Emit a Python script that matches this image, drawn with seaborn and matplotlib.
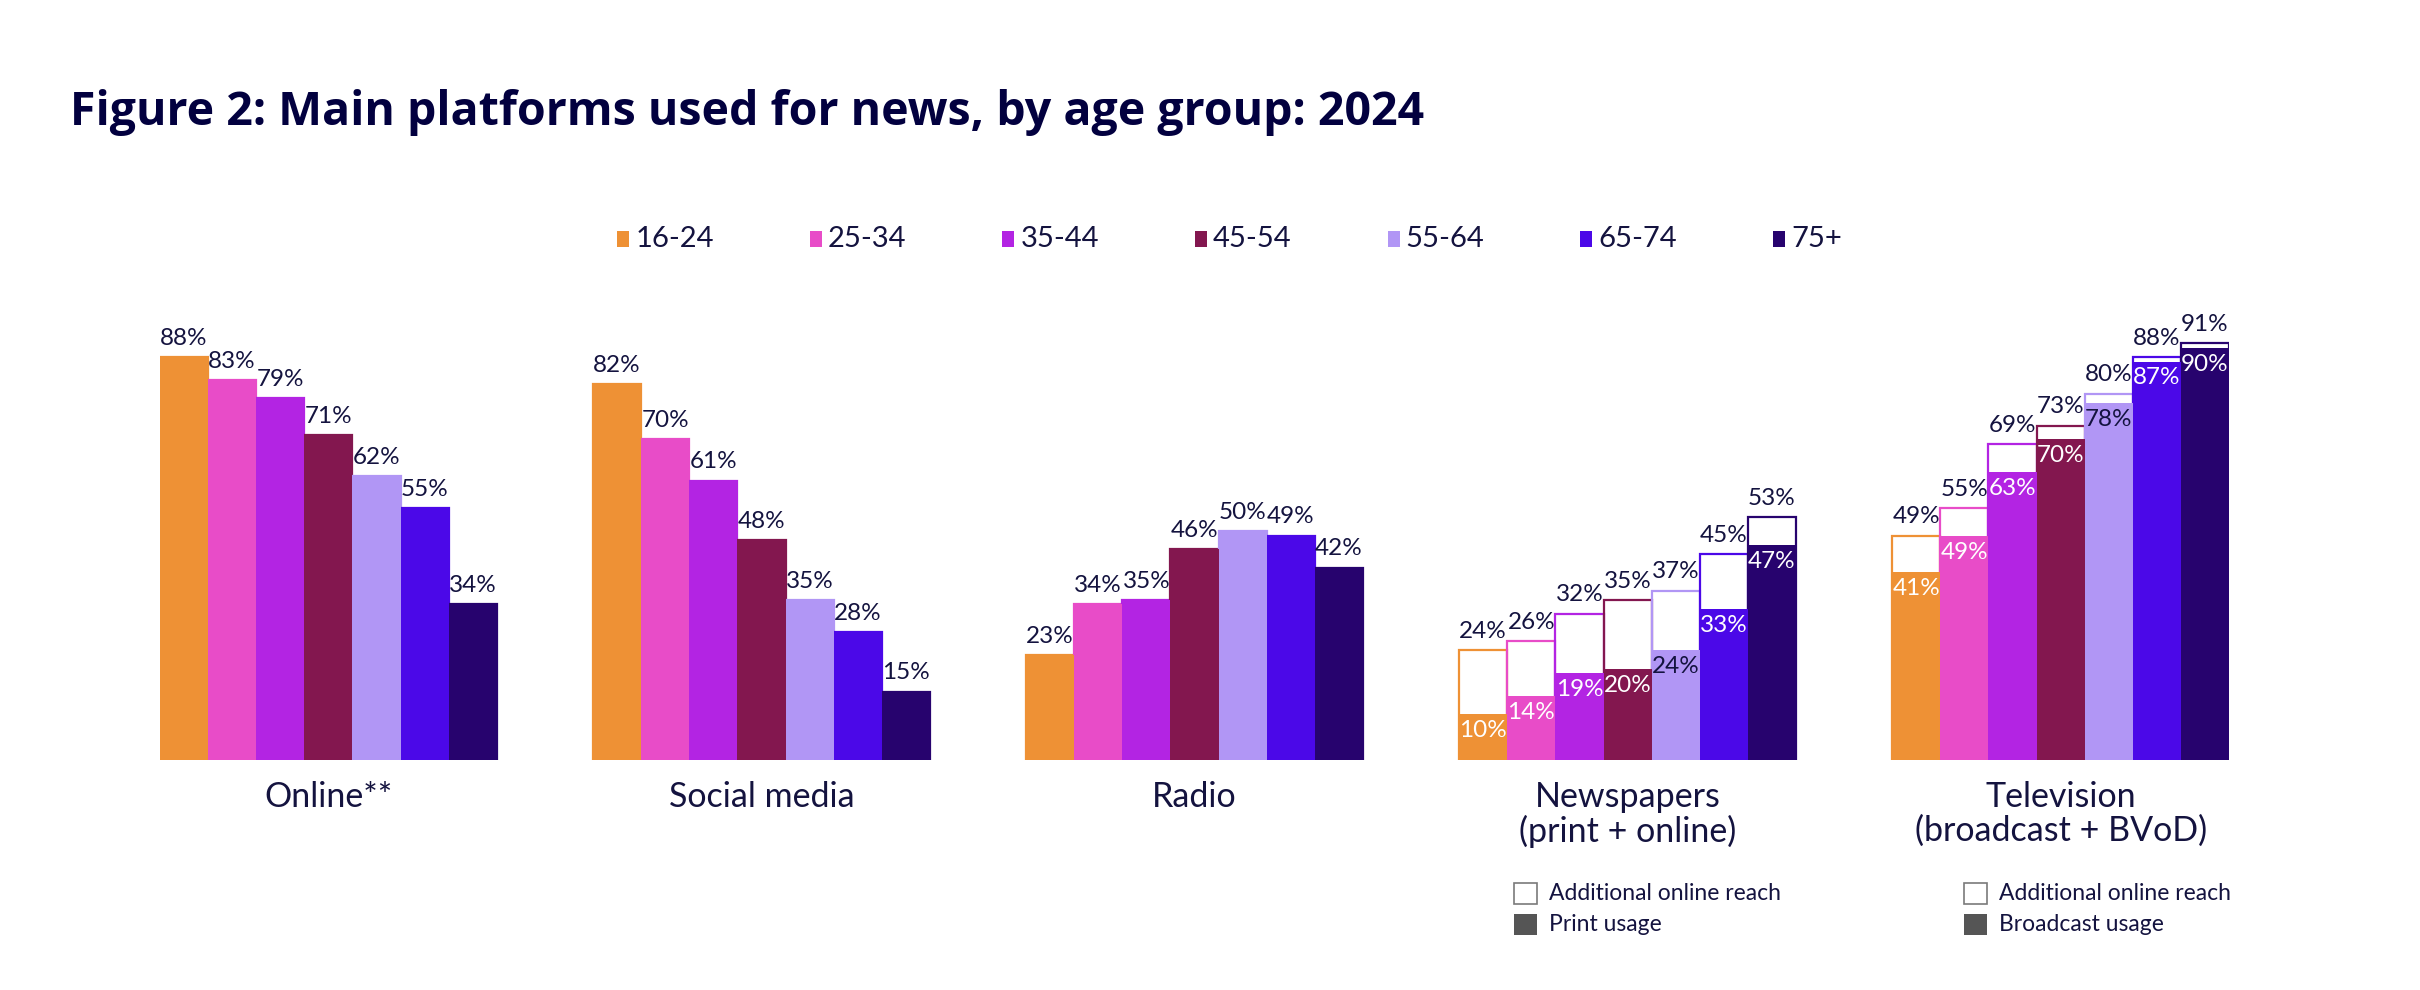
import pandas as pd
import seaborn as sns
import matplotlib.pyplot as plt
from matplotlib.patches import Rectangle

# Chart data
platforms = ['Online**', 'Social media', 'Radio',
             'Newspapers\n(print + online)', 'Television\n(broadcast + BVoD)']
ages = ['16-24', '25-34', '35-44', '45-54', '55-64', '65-74', '75+']
colors = ['#EE9135', '#E84CC8', '#B324E3', '#83174F', '#B196F5', '#4B08E8', '#27036E']

online = [88, 83, 79, 71, 62, 55, 34]
social = [82, 70, 61, 48, 35, 28, 15]
radio = [23, 34, 35, 46, 50, 49, 42]
news_total = [24, 26, 32, 35, 37, 45, 53]
news_print = [10, 14, 19, 20, 24, 33, 47]
tv_total = [49, 55, 69, 73, 80, 88, 91]
tv_broadcast = [41, 49, 63, 70, 78, 87, 90]

totals = [online, social, radio, news_total, tv_total]
cores = [online, social, radio, news_print, tv_broadcast]

rows = []
for p, tot, core in zip(platforms, totals, cores):
    for a, t, c in zip(ages, tot, core):
        rows.append({'platform': p, 'age': a, 'total': t, 'core': c})
df = pd.DataFrame(rows)

navy = '#02003F'
txt = '#14133F'

sns.set_theme(style='white')
plt.rcParams['font.family'] = ['Lato', 'DejaVu Sans']

fig = plt.figure(figsize=(24.2, 9.9), dpi=100)
ax = fig.add_axes([0.0661, 0.232, 0.855, 0.463])

common = dict(data=df, x='platform', hue='age', order=platforms, hue_order=ages,
              palette=colors, saturation=1, width=7 / 9, errorbar=None,
              legend=False, ax=ax)
# total reach as outlined bars, core usage as filled bars
sns.barplot(y='total', fill=False, linewidth=1.6, **common)
sns.barplot(y='core', linewidth=0, **common)

n = len(ages)
outline = ax.containers[:n]
filled = ax.containers[n:2 * n]

for cont, vals in zip(outline, zip(*totals)):
    ax.bar_label(cont, labels=[f'{v}%' for v in vals], padding=6,
                 fontsize=17.5, color=txt)

for i, (cont, vals) in enumerate(zip(filled, zip(*cores))):
    for j, (bar, v) in enumerate(zip(cont, vals)):
        if j < 3:
            continue
        c = txt if ages[i] == '55-64' else 'white'
        ax.text(bar.get_x() + bar.get_width() / 2, bar.get_height() - 1.3, f'{v}%',
                ha='center', va='top', fontsize=17.5, color=c)

ax.set_ylim(0, 100)
ax.set_xlim(-7 / 18, len(platforms) - 1 + 7 / 18)
ax.set_xlabel('')
ax.set_ylabel('')
ax.set_yticks([])
ax.tick_params(axis='x', length=0, pad=15, labelsize=24.5, labelcolor=txt)
for lab in ax.get_xticklabels():
    lab.set_linespacing(1.05)
sns.despine(ax=ax, left=True, bottom=True)

# Title
fig.text(0.029, 0.886, 'Figure 2: Main platforms used for news, by age group: 2024',
         fontsize=33.5, fontweight='bold', color=navy, va='center',
         family=['Open Sans', 'DejaVu Sans'])

# Age legend
for i, (a, c) in enumerate(zip(ages, colors)):
    x0 = 0.255 + i * 0.0796
    fig.patches.append(Rectangle((x0, 0.751), 0.005, 0.0152, facecolor=c,
                                 edgecolor='none', transform=fig.transFigure))
    fig.text(x0 + 0.0075, 0.751, a, fontsize=21, color=txt, va='baseline')

# Stack legends
for x0, lab2 in [(0.6255, 'Print usage'), (0.8115, 'Broadcast usage')]:
    fig.patches.append(Rectangle((x0, 0.087), 0.0095, 0.021, facecolor='white',
                                 edgecolor='#7a7a7a', linewidth=1.2,
                                 transform=fig.transFigure))
    fig.patches.append(Rectangle((x0, 0.056), 0.0095, 0.021, facecolor='#555555',
                                 edgecolor='none', transform=fig.transFigure))
    fig.text(x0 + 0.0145, 0.097, 'Additional online reach', fontsize=16.5,
             color=txt, va='center')
    fig.text(x0 + 0.0145, 0.066, lab2, fontsize=16.5, color=txt, va='center')

fig.savefig('out.png', dpi=100)
